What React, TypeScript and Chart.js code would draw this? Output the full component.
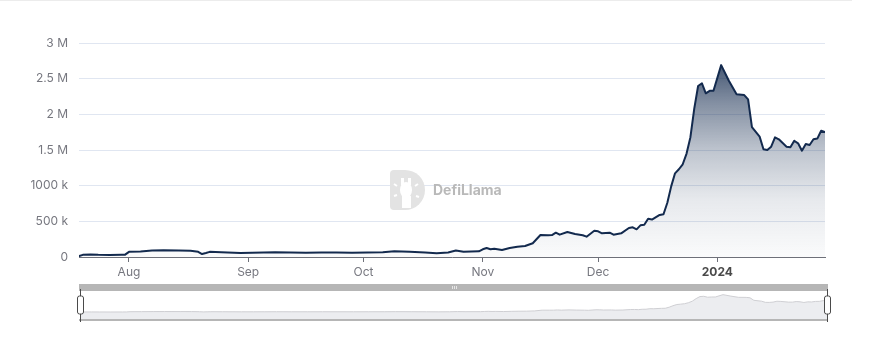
import React, { useEffect, useRef } from "react";
import { Chart, registerables } from "chart.js";

Chart.register(...registerables);

const startDate = "2023-07-19";

const dates = [
  "2023-07-19", "2023-07-20", "2023-07-22", "2023-07-24", "2023-07-27", "2023-07-30", "2023-07-31",
  "2023-08-01", "2023-08-04", "2023-08-07", "2023-08-10", "2023-08-14", "2023-08-17", "2023-08-19",
  "2023-08-20", "2023-08-21", "2023-08-22", "2023-08-25", "2023-08-30",
  "2023-09-02", "2023-09-05", "2023-09-08", "2023-09-12", "2023-09-16", "2023-09-20", "2023-09-24", "2023-09-28",
  "2023-10-02", "2023-10-06", "2023-10-09", "2023-10-13", "2023-10-17", "2023-10-20", "2023-10-23", "2023-10-25",
  "2023-10-27", "2023-10-31",
  "2023-11-01", "2023-11-02", "2023-11-03", "2023-11-04", "2023-11-06", "2023-11-08", "2023-11-10", "2023-11-12",
  "2023-11-14", "2023-11-16", "2023-11-18", "2023-11-19", "2023-11-20", "2023-11-21", "2023-11-23", "2023-11-25",
  "2023-11-27", "2023-11-28", "2023-11-30",
  "2023-12-01", "2023-12-02", "2023-12-04", "2023-12-05", "2023-12-07", "2023-12-09", "2023-12-10", "2023-12-11",
  "2023-12-12", "2023-12-13", "2023-12-14", "2023-12-15", "2023-12-17", "2023-12-18", "2023-12-19", "2023-12-20",
  "2023-12-21", "2023-12-22", "2023-12-23", "2023-12-24", "2023-12-25", "2023-12-26", "2023-12-27", "2023-12-28",
  "2023-12-29", "2023-12-30", "2023-12-31",
  "2024-01-02", "2024-01-04", "2024-01-06", "2024-01-08", "2024-01-09", "2024-01-10", "2024-01-12", "2024-01-13",
  "2024-01-14", "2024-01-15", "2024-01-16", "2024-01-17", "2024-01-19", "2024-01-20", "2024-01-21", "2024-01-22",
  "2024-01-23", "2024-01-24", "2024-01-25", "2024-01-26", "2024-01-27", "2024-01-28", "2024-01-29",
];

const values = [
  12000, 30000, 36000, 30000, 27000, 31000, 33000,
  72000, 78000, 90000, 95000, 90000, 88000, 72000,
  42000, 55000, 72000, 68000, 56000,
  58000, 62000, 66000, 63000, 60000, 64000, 62000, 60000,
  64000, 68000, 80000, 72000, 62000, 52000, 62000, 90000,
  75000, 80000,
  108000, 126000, 108000, 117000, 98000, 126000, 145000, 154000,
  192000, 308000, 304000, 308000, 341000, 313000, 350000, 322000,
  304000, 285000, 369000,
  360000, 332000, 341000, 313000, 332000, 407000, 416000, 388000,
  444000, 453000, 537000, 525000, 589000, 600000, 760000, 990000,
  1173000, 1230000, 1300000, 1450000, 1680000, 2080000, 2397000, 2435000,
  2295000, 2330000, 2330000,
  2690000, 2470000, 2280000, 2270000, 2210000, 1820000, 1687000, 1510000,
  1500000, 1546000, 1678000, 1650000, 1546000, 1540000, 1630000, 1594000,
  1490000, 1584000, 1570000, 1650000, 1660000, 1770000, 1750000,
];

const monthTickDates = ["2023-08-01", "2023-09-01", "2023-10-01", "2023-11-01", "2023-12-01", "2024-01-01"];
const monthTickLabels = ["Aug", "Sep", "Oct", "Nov", "Dec", "2024"];
const yTickValues = [0, 500000, 1000000, 1500000, 2000000, 2500000, 3000000];
const yTickLabels = ["0", "500 k", "1000 k", "1.5 M", "2 M", "2.5 M", "3 M"];

const dayOf = (d: string) => Math.round((Date.parse(d) - Date.parse(startDate)) / 86400000);
const points = dates.map((d, i) => ({ x: dayOf(d), y: values[i] }));
const xMax = dayOf(dates[dates.length - 1]);
const monthTicks = monthTickDates.map(dayOf);

const FONT = "Inter, 'Open Sans', sans-serif";

const watermark = {
  id: "watermark",
  beforeDatasetsDraw(chart: any) {
    const { ctx } = chart;
    ctx.save();
    const x0 = 390, y0 = 170, h = 40;
    ctx.fillStyle = "#e3e3e3";
    ctx.beginPath();
    ctx.moveTo(x0 + 4, y0);
    ctx.lineTo(x0 + 15, y0);
    ctx.arc(x0 + 15, y0 + h / 2, h / 2, -Math.PI / 2, Math.PI / 2);
    ctx.lineTo(x0 + 4, y0 + h);
    ctx.quadraticCurveTo(x0, y0 + h, x0, y0 + h - 4);
    ctx.lineTo(x0, y0 + 4);
    ctx.quadraticCurveTo(x0, y0, x0 + 4, y0);
    ctx.fill();
    ctx.fillStyle = "#ffffff";
    ctx.beginPath();
    ctx.ellipse(x0 + 16, y0 + 20, 6, 8, 0, 0, Math.PI * 2);
    ctx.fill();
    ctx.fillRect(x0 + 11, y0 + 8, 3, 7);
    ctx.fillRect(x0 + 18, y0 + 8, 3, 7);
    ctx.fillRect(x0 + 12, y0 + 26, 9, 12);
    ctx.strokeStyle = "#ffffff";
    ctx.lineWidth = 2;
    ctx.beginPath();
    ctx.moveTo(x0 + 4, y0 + 14); ctx.lineTo(x0 + 7, y0 + 16);
    ctx.moveTo(x0 + 28, y0 + 14); ctx.lineTo(x0 + 25, y0 + 16);
    ctx.moveTo(x0 + 4, y0 + 26); ctx.lineTo(x0 + 7, y0 + 25);
    ctx.moveTo(x0 + 29, y0 + 27); ctx.lineTo(x0 + 26, y0 + 26);
    ctx.stroke();
    ctx.fillStyle = "#b9b9b9";
    ctx.font = `bold 14px ${FONT}`;
    ctx.textBaseline = "middle";
    ctx.textAlign = "left";
    ctx.fillText("DefiLlama", 433, 191);
    ctx.restore();
  },
};

const slider = {
  id: "slider",
  afterDraw(chart: any) {
    const { ctx, chartArea } = chart;
    const l = chartArea.left, r = chartArea.right, t = chartArea.top, b = chartArea.bottom;
    ctx.save();
    ctx.fillStyle = "#b6b6b6";
    ctx.fillRect(l - 1, t - 7, r - l + 2, 7);
    ctx.strokeStyle = "#e6e6e6";
    ctx.lineWidth = 1;
    const mid = (l + r) / 2;
    ctx.beginPath();
    for (let i = -1; i <= 1; i++) {
      ctx.moveTo(Math.round(mid + i * 2) + 0.5, t - 5);
      ctx.lineTo(Math.round(mid + i * 2) + 0.5, t - 2);
    }
    ctx.stroke();
    ctx.fillStyle = "#b6b6b6";
    ctx.fillRect(l - 1, b, r - l + 2, 2);
    [l, r].forEach((hx) => {
      const x = Math.round(hx) + 0.5;
      ctx.strokeStyle = "#4a4a4a";
      ctx.lineWidth = 1;
      ctx.beginPath();
      ctx.moveTo(x, t - 2);
      ctx.lineTo(x, b + 3);
      ctx.stroke();
      ctx.fillStyle = "#ffffff";
      ctx.beginPath();
      (ctx as any).roundRect(x - 3, t + 5, 6, 18, 2);
      ctx.fill();
      ctx.stroke();
    });
    ctx.restore();
  },
};

export default function App() {
  const mainRef = useRef<HTMLCanvasElement>(null);
  const miniRef = useRef<HTMLCanvasElement>(null);

  useEffect(() => {
    const maxVal = Math.max(...values);
    const main = new Chart(mainRef.current!, {
      type: "line",
      data: {
        datasets: [
          {
            data: points,
            borderColor: "#132a4e",
            borderWidth: 2,
            borderJoinStyle: "round",
            borderCapStyle: "round",
            pointRadius: 0,
            tension: 0,
            fill: "origin",
            backgroundColor: (c: any) => {
              const chart = c.chart;
              const area = chart.chartArea;
              if (!area) return "rgba(19,42,78,0.3)";
              const top = chart.scales.y.getPixelForValue(maxVal);
              const g = chart.ctx.createLinearGradient(0, top, 0, area.bottom);
              g.addColorStop(0, "rgba(19,42,78,0.78)");
              g.addColorStop(0.2, "rgba(19,42,78,0.52)");
              g.addColorStop(0.45, "rgba(19,42,78,0.27)");
              g.addColorStop(0.7, "rgba(19,42,78,0.1)");
              g.addColorStop(1, "rgba(19,42,78,0.02)");
              return g;
            },
          },
        ],
      },
      options: {
        responsive: false,
        animation: false,
        layout: { padding: { left: 0, right: 45, top: 43, bottom: 0 } },
        plugins: { legend: { display: false }, tooltip: { enabled: false } },
        scales: {
          x: {
            type: "linear",
            min: 0,
            max: xMax,
            afterBuildTicks: (s: any) => {
              s.ticks = monthTicks.map((v) => ({ value: v }));
            },
            afterFit: (s: any) => {
              s.height = 23;
            },
            grid: { drawOnChartArea: false, drawTicks: true, tickLength: 5, color: "#6E7079" },
            border: { display: true, color: "#6E7079", width: 1 },
            ticks: {
              autoSkip: false,
              maxRotation: 0,
              padding: 3,
              font: (c: any) => ({
                family: FONT,
                size: 12,
                weight: c.tick && c.tick.value === monthTicks[5] ? "bold" : "normal",
              }),
              color: (c: any) => (c.tick && c.tick.value === monthTicks[5] ? "#4a4a4a" : "#76777f"),
              callback: (v: any) => {
                const i = monthTicks.indexOf(v);
                return i >= 0 ? monthTickLabels[i] : "";
              },
            },
          },
          y: {
            min: 0,
            max: 3000000,
            afterBuildTicks: (s: any) => {
              s.ticks = yTickValues.map((v) => ({ value: v }));
            },
            afterFit: (s: any) => {
              s.width = 79;
            },
            grid: { color: "#E0E6F1", drawTicks: false },
            border: { display: false },
            ticks: {
              padding: 11,
              font: { family: FONT, size: 12 },
              color: "#76777f",
              callback: (v: any) => {
                const i = yTickValues.indexOf(v);
                return i >= 0 ? yTickLabels[i] : "";
              },
            },
          },
        },
      },
      plugins: [watermark],
    });

    const mini = new Chart(miniRef.current!, {
      type: "line",
      data: {
        datasets: [
          {
            data: points,
            borderColor: "#cfcfd3",
            borderWidth: 1,
            pointRadius: 0,
            fill: "start",
            backgroundColor: "#ecedf0",
          },
        ],
      },
      options: {
        responsive: false,
        animation: false,
        layout: { padding: { left: 80, right: 43, top: 11, bottom: 11 } },
        plugins: { legend: { display: false }, tooltip: { enabled: false } },
        scales: {
          x: { type: "linear", min: 0, max: xMax, display: false },
          y: { min: -1050000, max: 3250000, display: false },
        },
      },
      plugins: [slider],
    });

    return () => {
      main.destroy();
      mini.destroy();
    };
  }, []);

  return (
    <div style={{ position: "fixed", left: 0, top: 0, width: 870, height: 338, background: "#fff" }}>
      <div style={{ position: "absolute", left: 0, top: 0, width: 852, height: 1, background: "#ececec" }} />
      <canvas ref={mainRef} width={870} height={280} style={{ position: "absolute", left: 0, top: 0 }} />
      <canvas ref={miniRef} width={870} height={50} style={{ position: "absolute", left: 0, top: 280 }} />
    </div>
  );
}
